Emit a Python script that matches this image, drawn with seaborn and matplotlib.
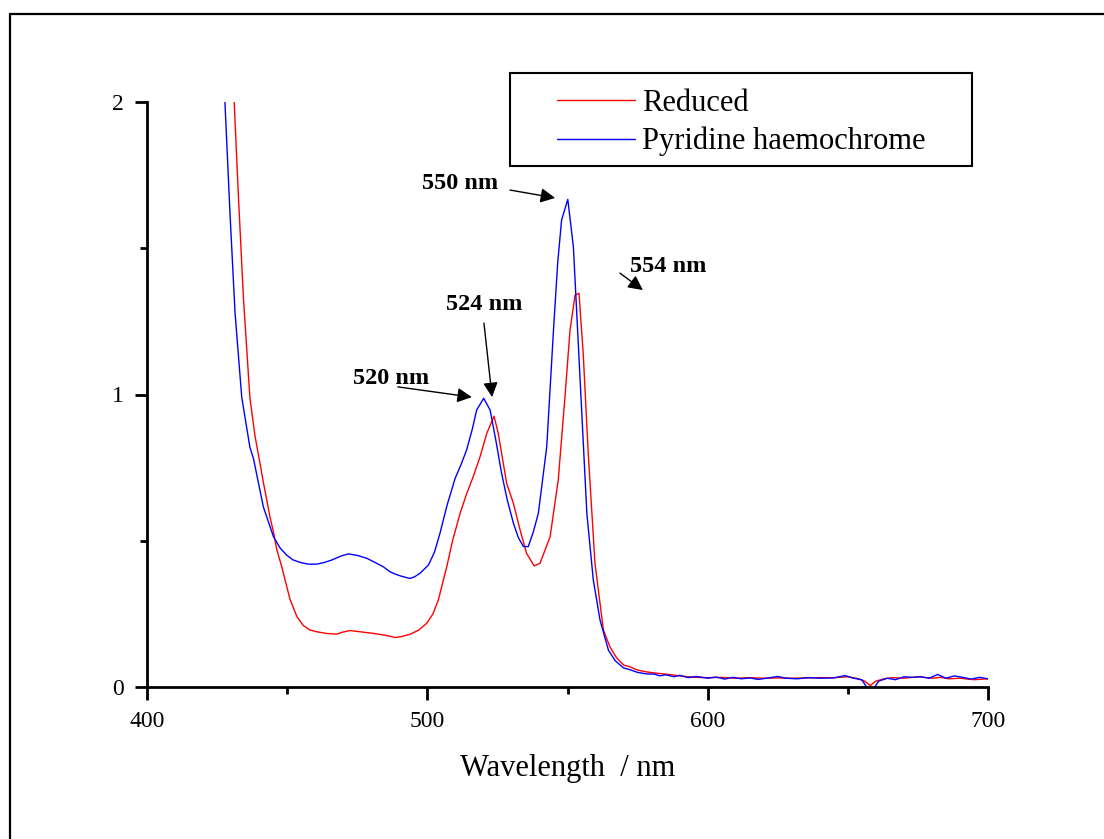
import pandas as pd
import numpy as np
import seaborn as sns
import matplotlib.pyplot as plt
from matplotlib.lines import Line2D
from matplotlib.patches import Rectangle

sns.set_theme(style="ticks")
plt.rcParams['font.family'] = ['Liberation Serif', 'DejaVu Serif']
plt.rcParams['text.color'] = 'black'
plt.rcParams['axes.labelcolor'] = 'black'
plt.rcParams['xtick.color'] = 'black'
plt.rcParams['ytick.color'] = 'black'

# Reduced spectrum (red)
red_wl = [430.0, 431.1, 432.6, 434.4, 436.7, 438.5, 440.3, 441.5, 443.9, 445.1, 446.3, 448.1,
          451.0, 453.5, 455.8, 458.0, 460.5, 464.0, 467.7, 470.0, 472.4, 475.0, 478.4, 481.0,
          484.3, 486.5, 488.5, 491.0, 493.8, 497.0, 499.8, 502.0, 503.9, 506.9, 509.0, 511.7,
          514.0, 516.4, 518.8, 521.2, 523.8, 525.3, 528.3, 530.7, 533.0, 535.4, 538.1, 540.2,
          543.8, 546.7, 549.1, 550.9, 552.7, 554.1, 555.6, 557.4, 559.8, 562.8, 565.1, 567.5,
          570.0, 572.0, 575.0, 578.0, 581.0, 584.0, 587.0, 590.0, 593.0, 596.0, 600.0, 605.0,
          610.0, 615.0, 620.0, 625.0, 630.0, 635.0, 640.0, 645.0, 650.0, 653.0, 656.0, 658.0,
          660.0, 663.0, 666.0, 670.0, 675.0, 680.0, 683.0, 686.0, 690.0, 695.0, 700.0]
red_abs = [2.15, 2.00, 1.68, 1.33, 0.99, 0.86, 0.765, 0.70, 0.58, 0.53, 0.47, 0.41,
           0.30, 0.24, 0.21, 0.195, 0.189, 0.183, 0.181, 0.188, 0.193, 0.190, 0.186, 0.183,
           0.178, 0.174, 0.169, 0.173, 0.180, 0.195, 0.218, 0.25, 0.297, 0.41, 0.50, 0.594,
           0.66, 0.72, 0.787, 0.867, 0.926, 0.867, 0.696, 0.628, 0.54, 0.457, 0.414, 0.423,
           0.514, 0.708, 0.992, 1.22, 1.34, 1.346, 1.141, 0.799, 0.423, 0.195, 0.138, 0.10,
           0.075, 0.07, 0.058, 0.052, 0.048, 0.045, 0.042, 0.038, 0.035, 0.033, 0.032, 0.033,
           0.030, 0.032, 0.030, 0.031, 0.030, 0.031, 0.032, 0.032, 0.035, 0.030, 0.020, 0.005,
           0.020, 0.028, 0.032, 0.030, 0.035, 0.030, 0.033, 0.028, 0.030, 0.025, 0.028]

# Pyridine haemochrome spectrum (blue)
blue_wl = [426.5, 427.8, 429.6, 431.4, 433.8, 436.7, 438.0, 441.5, 445.1, 447.5, 449.8, 452.0,
           454.6, 457.5, 460.5, 463.0, 465.9, 469.0, 471.8, 475.0, 478.4, 481.5, 484.3, 486.5,
           488.5, 491.0, 493.8, 495.5, 497.4, 500.4, 502.5, 504.5, 507.0, 509.9, 512.0, 514.0,
           516.0, 517.6, 520.1, 522.4, 524.5, 526.5, 528.5, 530.7, 532.5, 534.3, 536.0, 537.8,
           539.6, 541.0, 542.6, 545.0, 546.5, 547.9, 550.1, 552.1, 554.5, 556.9, 559.2, 561.6,
           564.6, 567.0, 570.0, 572.0, 575.0, 578.0, 581.0, 583.0, 585.0, 588.0, 590.0, 593.0,
           596.0, 600.0, 603.0, 606.0, 609.0, 612.0, 615.0, 618.0, 621.0, 625.0, 628.0, 632.0,
           636.0, 640.0, 645.0, 649.0, 652.0, 655.0, 657.0, 659.0, 661.0, 664.0, 667.0, 670.0,
           673.0, 676.0, 679.0, 682.0, 685.0, 688.0, 691.0, 694.0, 697.0, 700.0]
blue_abs = [2.15, 2.00, 1.62, 1.28, 0.99, 0.82, 0.78, 0.616, 0.514, 0.475, 0.451, 0.435,
            0.426, 0.42, 0.42, 0.425, 0.434, 0.447, 0.455, 0.45, 0.44, 0.425, 0.411, 0.395,
            0.386, 0.378, 0.371, 0.377, 0.389, 0.417, 0.46, 0.525, 0.62, 0.713, 0.76, 0.81,
            0.88, 0.947, 0.987, 0.947, 0.84, 0.73, 0.64, 0.56, 0.51, 0.48, 0.48, 0.53,
            0.594, 0.70, 0.822, 1.22, 1.45, 1.597, 1.667, 1.505, 1.05, 0.594, 0.366, 0.229,
            0.126, 0.09, 0.065, 0.06, 0.05, 0.045, 0.044, 0.038, 0.042, 0.035, 0.04, 0.032,
            0.036, 0.030, 0.034, 0.027, 0.033, 0.028, 0.031, 0.026, 0.030, 0.036, 0.030, 0.028,
            0.032, 0.030, 0.031, 0.039, 0.030, 0.025, -0.005, -0.008, 0.020, 0.030, 0.025, 0.035,
            0.033, 0.035, 0.030, 0.043, 0.030, 0.038, 0.033, 0.027, 0.033, 0.028]

# peak labels: text, text position, arrow start, arrow tip
peak_labels = ["550 nm", "554 nm", "524 nm", "520 nm"]
peak_text_xy = [(511.7, 1.72), (585.9, 1.436), (520.2, 1.309), (487.2, 1.056)]
peak_arrow_from = [(529.5, 1.699), (568.7, 1.415), (520.2, 1.244), (489.5, 1.026)]
peak_arrow_to = [(545.6, 1.672), (576.9, 1.357), (523.1, 0.991), (515.9, 0.991)]

red_df = pd.DataFrame({"wl": red_wl, "A": red_abs})
blue_df = pd.DataFrame({"wl": blue_wl, "A": blue_abs})

fig = plt.figure(figsize=(11.04, 8.39), dpi=100)
ax = fig.add_axes([147 / 1104, 1 - 687 / 839, 841 / 1104, 585 / 839])

sns.lineplot(data=red_df, x="wl", y="A", color="#ff0000", linewidth=1.0, label="Reduced", ax=ax)
sns.lineplot(data=blue_df, x="wl", y="A", color="#0000ff", linewidth=1.0, label="Pyridine haemochrome", ax=ax)

ax.set_xlim(400, 700)
ax.set_ylim(0, 2)
ax.set_xticks([400, 500, 600, 700])
ax.set_xticks([450, 550, 650], minor=True)
ax.set_yticks([0, 1, 2])
ax.set_yticks([0.5, 1.5], minor=True)
ax.set_yticklabels(["0", "1", "2"])
for side in ["top", "right"]:
    ax.spines[side].set_visible(False)
for side in ["left", "bottom"]:
    ax.spines[side].set_linewidth(2.0)
    ax.spines[side].set_color("black")
ax.tick_params(which="major", direction="out", length=9, width=2.0, color="black",
               labelsize=17, pad=8, labelcolor="black")
ax.tick_params(which="minor", direction="out", length=5, width=2.0, color="black")
ax.set_xlabel("Wavelength  / nm", fontsize=22, labelpad=16, color="black")
ax.set_ylabel("")

for lab, txy, a0, a1 in zip(peak_labels, peak_text_xy, peak_arrow_from, peak_arrow_to):
    ax.text(txy[0], txy[1], lab, fontsize=17.5, fontweight="bold", ha="center", va="center",
            color="black")
    ax.annotate("", xy=a1, xytext=a0,
                arrowprops=dict(arrowstyle="-|>", color="black", lw=1.0, mutation_scale=22,
                                shrinkA=0, shrinkB=0))

leg = ax.legend(loc="upper left", bbox_to_anchor=(557 / 1104, 1 - 89 / 839),
                bbox_transform=fig.transFigure, frameon=False, fontsize=22,
                handlelength=2.55, handletextpad=0.23, labelspacing=0.29,
                borderpad=0, borderaxespad=0)
for t in leg.get_texts():
    t.set_color("black")
fig.add_artist(Rectangle((510 / 1104, 1 - 166 / 839), 462 / 1104, 93 / 839,
                         transform=fig.transFigure, fill=False, edgecolor="black", linewidth=1.5))

# outer frame, only top and left edges show in the original
fig.add_artist(Line2D([10 / 1104, 10 / 1104], [0, 1 - 13.5 / 839], transform=fig.transFigure,
                      color="black", linewidth=1.6))
fig.add_artist(Line2D([10 / 1104, 1], [1 - 13.5 / 839, 1 - 13.5 / 839], transform=fig.transFigure,
                      color="black", linewidth=1.6))

plt.savefig("out.png", dpi=100)
